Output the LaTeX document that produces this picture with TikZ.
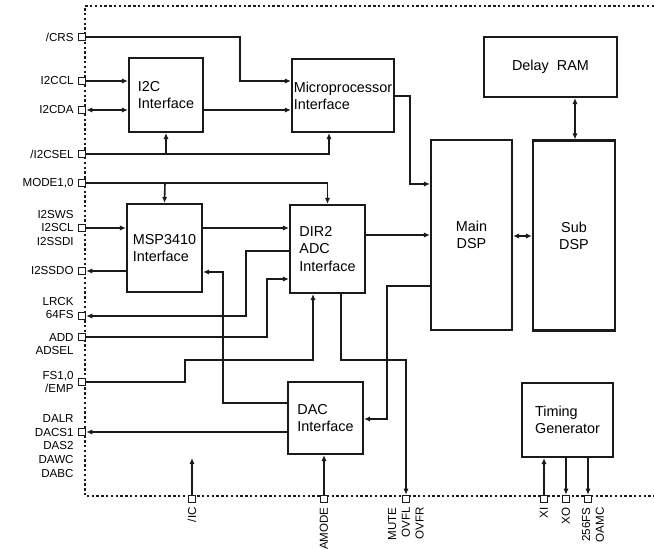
\documentclass[tikz,border=0pt]{standalone}
\usepackage{fontspec}
\setmainfont{Liberation Sans}
\usepackage{tikz}
\usetikzlibrary{arrows.meta}
\definecolor{inkline}{HTML}{1A1A1A}

\begin{document}
\begin{tikzpicture}[x=0.5pt, y=-0.5pt,
  blk/.style={draw=inkline, line width=1.05pt, align=left, inner sep=0pt,
    font=\fontsize{7.2}{8.6}\selectfont},
  padsq/.style={draw=inkline, line width=0.75pt, fill=white, minimum size=3.5pt, inner sep=0pt},
  plabel/.style={align=right, anchor=east, inner sep=0pt, font=\fontsize{5.8}{6.9}\selectfont},
  blabel/.style={plabel, rotate=90},
  sig/.style={draw=inkline, line width=0.8pt, -{Latex[length=3pt,width=2.6pt]}},
  sig2/.style={sig, {Latex[length=3pt,width=2.6pt]}-{Latex[length=3pt,width=2.6pt]}},
  border/.style={draw=inkline, line width=0.95pt, dash pattern=on 1.2pt off 1.2pt}]
\useasboundingbox (0,0) rectangle (654,550);

% chip outline
\draw[border] (654,6) -| (85,496) -- (654,496);

% function blocks
\node[blk, minimum width=37pt, minimum height=37pt] (i2c) at (166,95) {I2C\\Interface};
\node[blk, minimum width=51pt, minimum height=36.5pt] (micro) at (343,95.5) {Microprocessor\\Interface};
\node[blk, minimum width=37.5pt, minimum height=44pt] (msp) at (164.5,248) {MSP3410\\Interface};
\node[blk, minimum width=37.5pt, minimum height=44pt] (dir) at (327.5,249) {DIR2\\ADC\\Interface};
\node[blk, minimum width=37.5pt, minimum height=36pt] (dac) at (325.5,418) {DAC\\Interface};
\node[blk, align=center, minimum width=40.5pt, minimum height=95pt] (main) at (471.5,235) {Main\\DSP};
\node[blk, align=center, minimum width=41pt, minimum height=95pt] (sub) at (574,235.5) {Sub\\DSP};
\node[blk, minimum width=66.5pt, minimum height=30pt] (ram) at (550.5,67) {Delay~~RAM};
\node[blk, minimum width=45.5pt, minimum height=37pt] (tg) at (567.5,420) {Timing\\Generator};

% left pins
\foreach \nm/\yy in {crs/37, i2ccl/81, i2cda/110, i2csel/154, mode/183, i2ss/228,
                     i2ssdo/271, lrck/316, add/337, fs/382, dacs/432}
  \node[padsq] (\nm) at (82,\yy) {};

\node[plabel] (crsl) at (74,37) {/CRS};
\node[plabel] (i2ccll) at (74,81) {I2CCL};
\node[plabel] (i2cdal) at (74,110) {I2CDA};
\node[plabel] (i2csell) at (74,154) {/I2CSEL};
\node[plabel] (model) at (74,183) {MODE1,0};
\node[plabel] (i2ssl) at (74,228) {I2SWS\\I2SCL\\I2SSDI};
\node[plabel] (i2ssdol) at (74,271) {I2SSDO};
\node[plabel] (lrckl) at (74,308) {LRCK\\64FS};
\node[plabel] (addl) at (74,344) {ADD\\ADSEL};
\node[plabel] (fsl) at (74,382) {FS1,0\\/EMP};
\node[plabel] (dacsl) at (74,446) {DALR\\DACS1\\DAS2\\DAWC\\DABC};

% bottom pins
\foreach \nm/\xx in {ic/192, amode/324, mute/406, xi/544, xo/566, fsc/588}
  \node[padsq] (\nm) at (\xx,499) {};

\node[blabel] (icl) at (192,507) {/IC};
\node[blabel] (amodel) at (324,507) {AMODE};
\node[blabel] (mutel) at (406,507) {MUTE\\OVFL\\OVFR};
\node[blabel] (xil) at (544,507) {XI};
\node[blabel] (xol) at (566,507) {XO};
\node[blabel] (fscl) at (593,507) {256FS\\OAMC};

% control side
\draw[sig] (crs.east) -| (240,81) -- (micro.west |- 0,81);
\draw[sig] (i2ccl.east) -- (i2c.west |- i2ccl);
\draw[sig2] (i2cda.east) -- (i2c.west |- i2cda);
\draw[sig] (i2c.east |- 0,110) -- (micro.west |- 0,110);
\draw[sig] (i2csel.east) -| (329,0 |- micro.south);
\draw[sig] (166,154) -- (i2c.south);
\draw[sig] (micro.east |- 0,96) -| (410,184) -- (main.west |- 0,184);

% audio side
\draw[sig] (mode.east) -| (dir.north);
\draw[sig] (165,183) -- (msp.north);
\draw[sig] (i2ss.east) -- (msp.west |- i2ss);
\draw[sig] (msp.east |- 0,228) -- (dir.west |- 0,228);
\draw[sig] (msp.west |- i2ssdo) -- (i2ssdo.east);
\draw[sig] (dir.west |- 0,251) -| (246,316) -- (lrck.east);
\draw[sig] (add.east) -| (267,279) -- (dir.west |- 0,279);
\draw[sig] (fs.east) -| (185,360) -| (313,0 |- dir.south);
\draw[sig] (dac.west |- 0,403) -| (223,272) -- (msp.east |- 0,272);
\draw[sig] (dac.west |- dacs) -- (dacs.east);
\draw[sig] (main.west |- 0,286) -| (387,419) -- (dac.east |- 0,419);
\draw[sig] (341,0 |- dir.south) |- (406,360) -- (mute.north);
\draw[sig] (dir.east |- 0,235) -- (main.west |- 0,235);
\draw[sig2] (main.east |- 0,236) -- (sub.west |- 0,236);
\draw[sig2] (575,0 |- ram.south) -- (575,0 |- sub.north);

% bottom side
\coordinate (icend) at (192,458);
\draw[sig] (ic.north) -- (icend);
\draw[sig] (amode.north) -- (dac.south -| amode);
\draw[sig] (xi.north) -- (tg.south -| xi);
\draw[sig] (tg.south -| xo) -- (xo.north);
\draw[sig] (tg.south -| fsc) -- (fsc.north);
\end{tikzpicture}
\end{document}
